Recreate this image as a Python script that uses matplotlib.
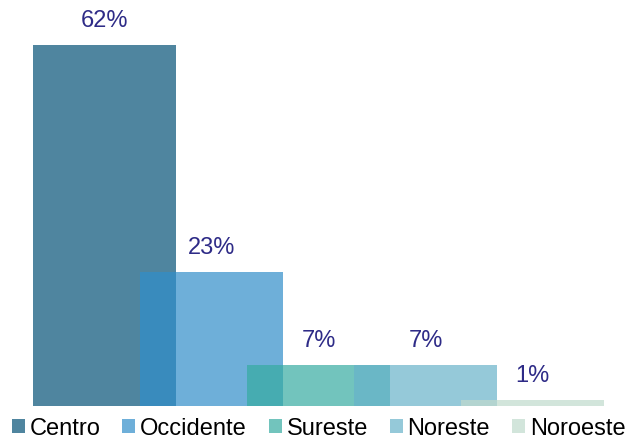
import matplotlib
matplotlib.use("Agg")
import matplotlib.pyplot as plt
from matplotlib.patches import Patch

categories = ["Centro", "Occidente", "Sureste", "Noreste", "Noroeste"]
values = [62, 23, 7, 7, 1]
labels = ["62%", "23%", "7%", "7%", "1%"]
colors = ["#045277", "#318ECA", "#36ABA1", "#68B2CA", "#C0DACD"]

plt.rcParams['font.family'] = ['Liberation Sans', 'DejaVu Sans']

W, H = 627, 440
fig = plt.figure(figsize=(W/100, H/100), dpi=100)
ax = fig.add_axes([33/W, (H-406)/H, (604-33)/W, 406/H])

width = 1.336
x = list(range(len(categories)))
for i, (v, c) in enumerate(zip(values, colors)):
    ax.bar(x[i], v, width=width, color=c, alpha=0.7, linewidth=0, zorder=2+i)
    ax.text(x[i], v + 2.2, labels[i], ha='center', va='bottom', fontsize=17,
            color='#2E2B87', zorder=10)

ax.set_xlim(-width/2, len(categories) - 1 + width/2)
ax.set_ylim(0, 406/5.823)
ax.axis('off')

handles = [Patch(facecolor=c, alpha=0.7, edgecolor='none') for c in colors]
fig.legend(handles, categories, loc='lower center', bbox_to_anchor=(0.508, 0.001),
           ncol=5, frameon=False, fontsize=17, handlelength=0.55, handleheight=0.55,
           handletextpad=0.2, columnspacing=0.93, borderaxespad=0.0, borderpad=0.0)

fig.savefig("out.png", dpi=100)
